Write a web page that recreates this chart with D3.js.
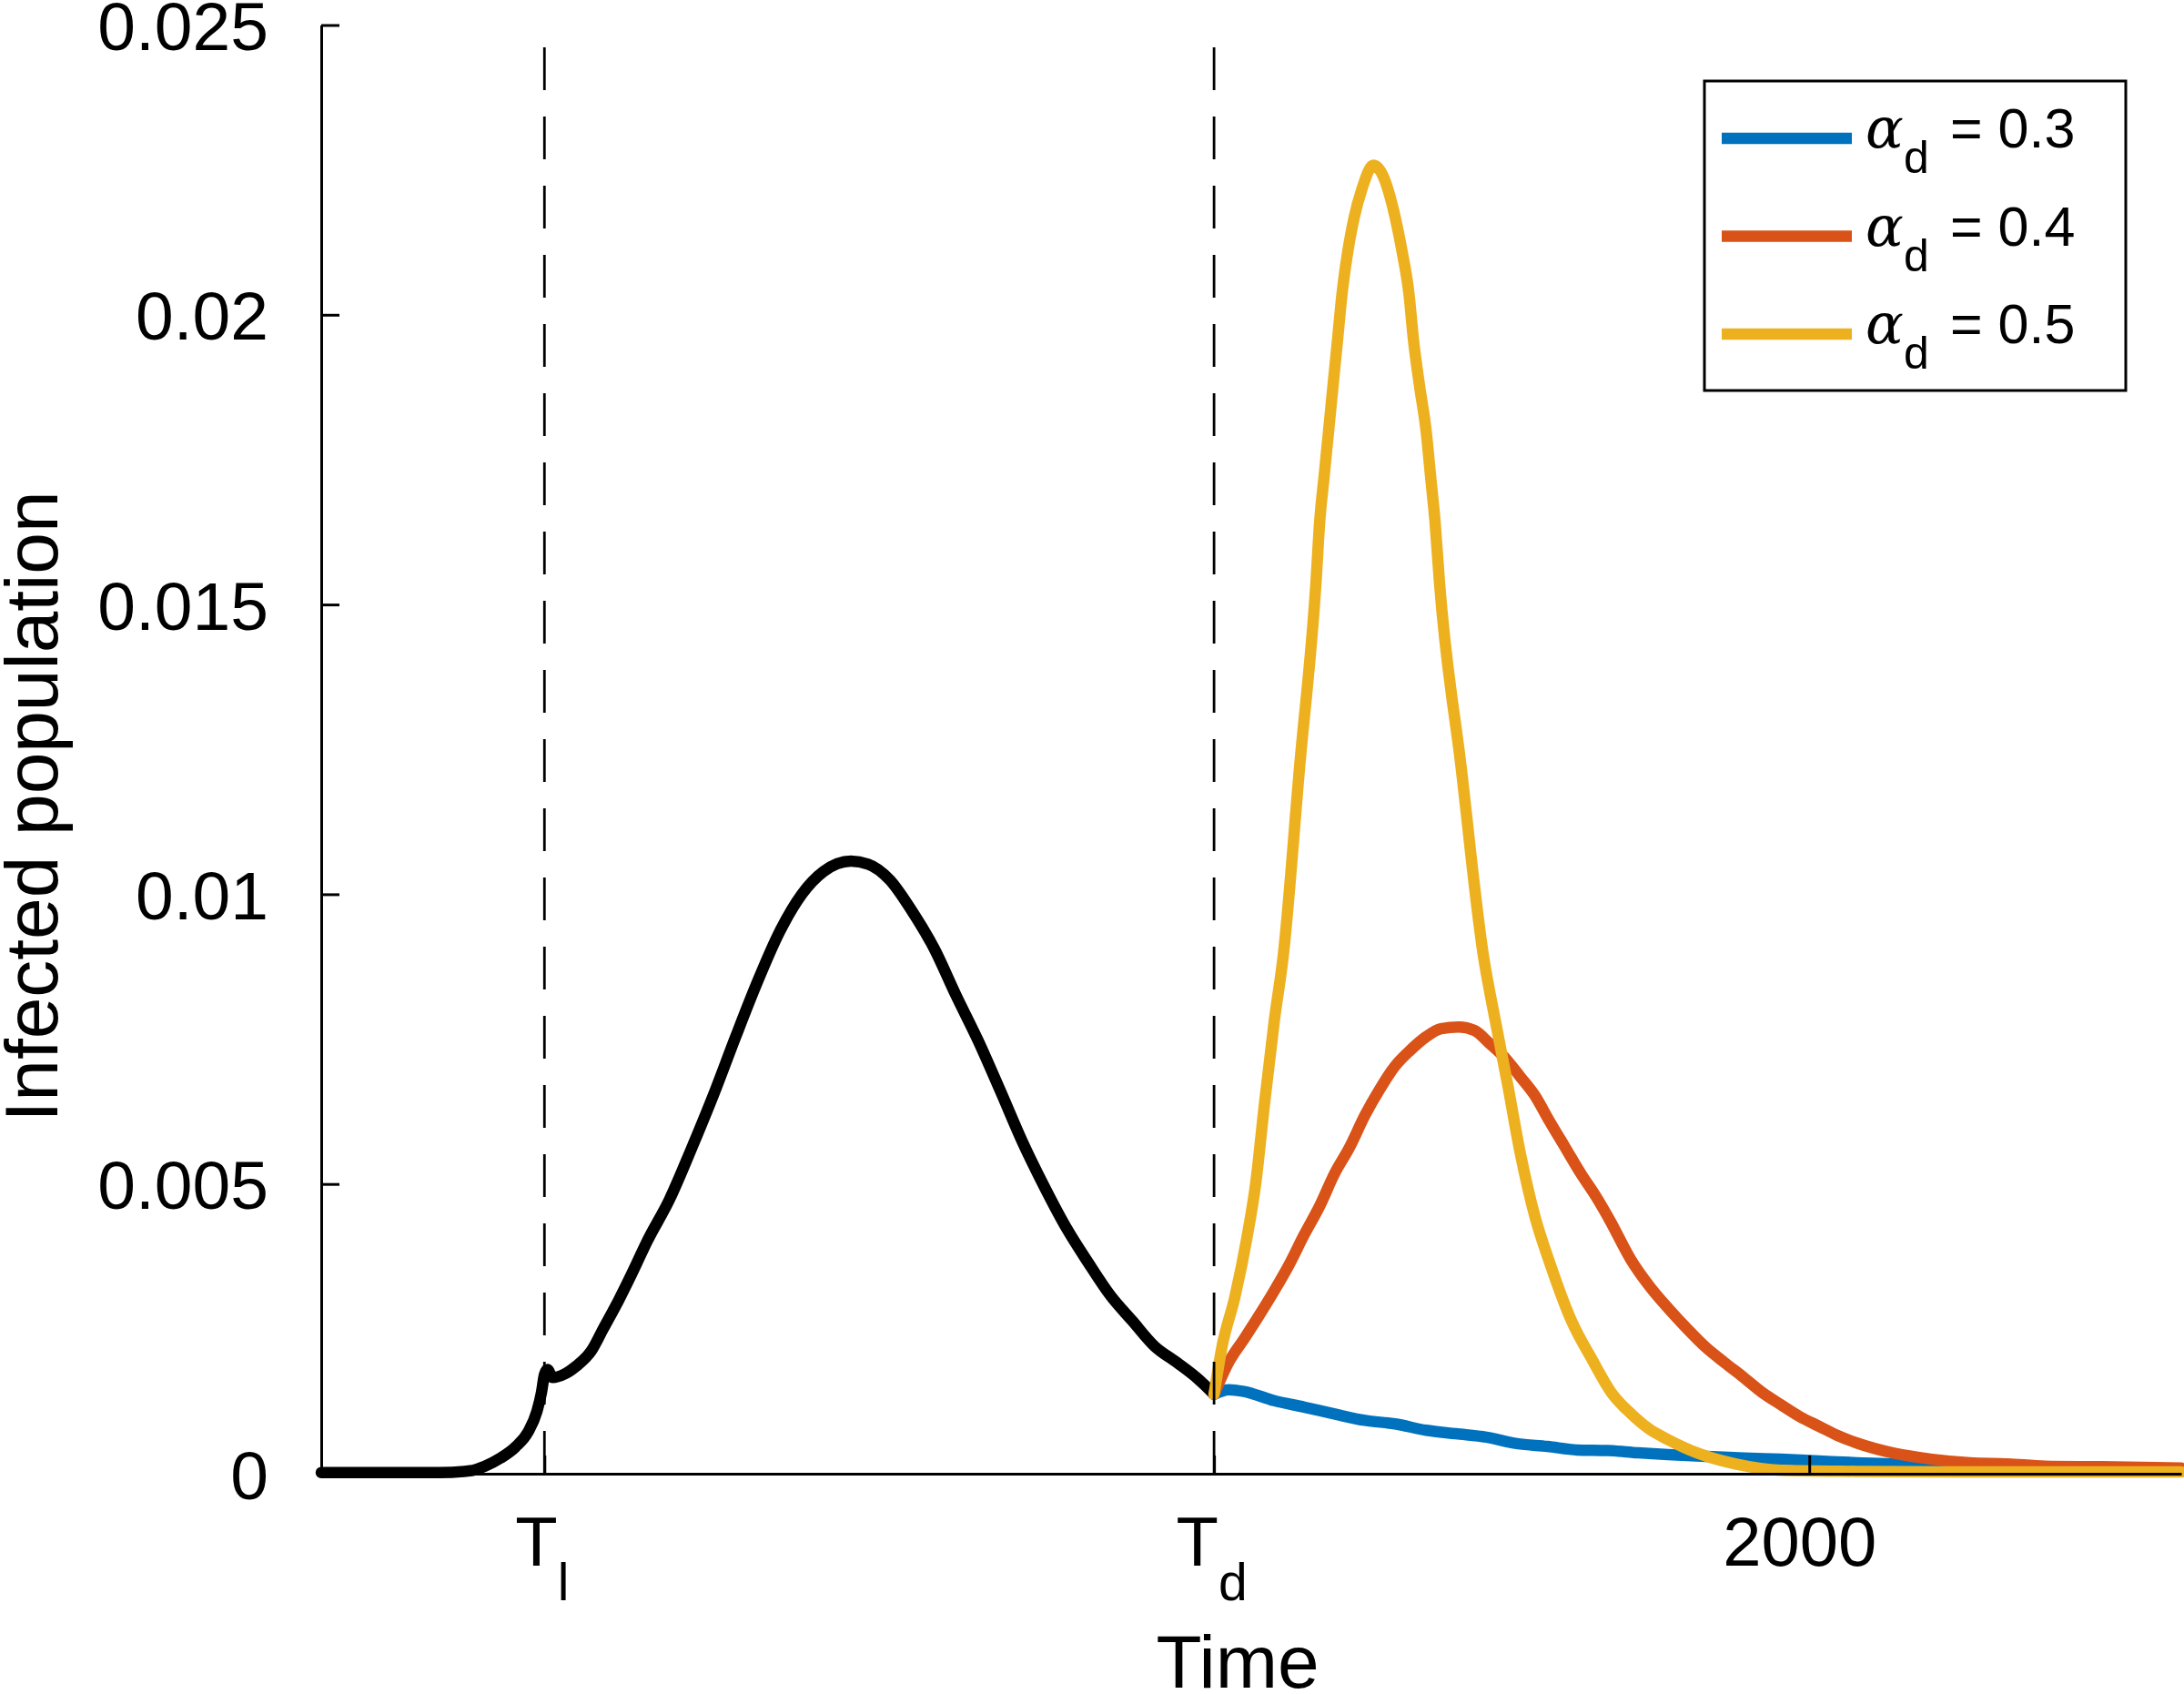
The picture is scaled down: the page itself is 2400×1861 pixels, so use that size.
<!DOCTYPE html>
<html>
<head>
<meta charset="utf-8">
<script src="https://cdn.jsdelivr.net/npm/d3@7"></script>
<style>
  html, body { margin: 0; padding: 0; background: #fff; }
  svg { display: block; }
</style>
</head>
<body>
<svg id="chart" width="2400" height="1861"></svg>
<script>
// ---------------- DATA ----------------
const blackT = [0, 100, 159, 200, 220, 241, 261, 278, 290, 296, 300, 304, 311, 327, 343, 363, 379, 400, 417, 438, 468, 497, 527, 557, 586, 616, 646, 675, 712, 735, 764, 794, 824, 853, 883, 913, 942, 972, 1002, 1031, 1061, 1090, 1120, 1150, 1179, 1200];
const blackV = [0.00002, 0.00002, 0.00002, 0.00005, 0.00013, 0.00027, 0.00046, 0.00072, 0.00108, 0.0014, 0.00171, 0.00180, 0.00166, 0.00172, 0.00186, 0.00212, 0.00250, 0.00300, 0.00344, 0.00401, 0.00473, 0.00559, 0.00653, 0.00754, 0.00848, 0.00935, 0.01000, 0.01039, 0.01057, 0.01052, 0.01025, 0.00971, 0.00906, 0.00826, 0.00747, 0.00660, 0.00574, 0.00495, 0.00423, 0.00364, 0.00307, 0.00264, 0.00220, 0.00192, 0.00163, 0.00137];

const blueT = [1200, 1220, 1240, 1281, 1321, 1362, 1403, 1443, 1485, 1525, 1566, 1607, 1648, 1688, 1729, 1770, 1810, 1861, 1912, 1962, 2013, 2064, 2115, 2165, 2216, 2317, 2400, 2500];
const blueV = [0.00137, 0.00145, 0.00142, 0.00126, 0.00115, 0.00103, 0.00092, 0.00086, 0.00075, 0.00069, 0.00063, 0.00052, 0.00047, 0.00041, 0.00040, 0.00036, 0.00033, 0.00030, 0.00027, 0.00025, 0.00022, 0.00019, 0.00017, 0.00012, 0.00006, 0.00004, 0.00004, 0.00004];

const redT = [1200, 1220, 1240, 1260, 1281, 1301, 1321, 1342, 1362, 1382, 1403, 1423, 1443, 1464, 1485, 1505, 1529, 1550, 1570, 1590, 1611, 1631, 1651, 1672, 1693, 1713, 1733, 1760, 1785, 1810, 1836, 1861, 1886, 1912, 1937, 1962, 1988, 2013, 2038, 2064, 2115, 2165, 2216, 2267, 2317, 2394, 2500];
const redV = [0.00137, 0.00193, 0.00232, 0.00272, 0.00316, 0.00361, 0.00412, 0.00462, 0.00518, 0.00563, 0.00619, 0.00664, 0.00703, 0.00731, 0.00754, 0.00768, 0.00771, 0.00765, 0.00743, 0.00719, 0.00686, 0.00653, 0.00608, 0.00563, 0.00518, 0.00479, 0.00435, 0.00370, 0.00324, 0.00286, 0.00250, 0.00218, 0.00192, 0.00166, 0.00140, 0.00119, 0.00098, 0.00082, 0.00066, 0.00053, 0.00035, 0.00025, 0.00019, 0.00017, 0.00013, 0.00012, 0.00010];

const yellowT = [1200, 1211, 1228, 1244, 1256, 1268, 1281, 1293, 1315, 1337, 1342, 1348, 1354, 1360, 1366, 1372, 1379, 1388, 1399, 1414, 1427, 1440, 1452, 1462, 1468, 1476, 1485, 1491, 1497, 1503, 1532, 1562, 1578, 1595, 1611, 1631, 1652, 1680, 1709, 1734, 1760, 1785, 1810, 1851, 1900, 1962, 2063, 2200, 2350, 2500];
const yellowV = [0.00137, 0.00221, 0.00305, 0.00406, 0.00501, 0.00641, 0.00782, 0.00894, 0.01220, 0.01538, 0.01643, 0.01722, 0.01800, 0.01879, 0.01957, 0.02036, 0.02103, 0.02166, 0.02218, 0.02258, 0.02240, 0.02187, 0.02114, 0.02036, 0.01957, 0.01879, 0.01800, 0.01722, 0.01643, 0.01538, 0.01220, 0.00894, 0.00782, 0.00669, 0.00557, 0.00445, 0.00361, 0.00265, 0.00195, 0.00140, 0.00104, 0.00077, 0.00059, 0.00035, 0.00017, 0.00006, 0.00004, 0.00003, 0.00003, 0.00003];

const seriesNames = ["0.3", "0.4", "0.5"];
const seriesColors = ["#0072BD", "#D95319", "#EDB120"];

const yTickValues = [0, 0.005, 0.01, 0.015, 0.02, 0.025];
const yTickLabels = ["0", "0.005", "0.01", "0.015", "0.02", "0.025"];
const xTickValues = [300, 1200, 2000];
const xTickMain = ["T", "T", "2000"];
const xTickSub = ["l", "d", ""];
const markerTimes = [300, 1200];

const xLabel = "Time";
const yLabel = "Infected population";

// ---------------- LAYOUT ----------------
const FONT = "'Liberation Sans', Arial, Helvetica, sans-serif";
const svg = d3.select("#chart");
const x = d3.scaleLinear().domain([0, 2500]).range([353, 2397]);
const y = d3.scaleLinear().domain([0, 0.025]).range([1619, 27.5]);

const zip = (ts, vs) => ts.map((t, i) => ({ t, v: vs[i] }));
const line = d3.line().x(d => x(d.t)).y(d => y(d.v)).curve(d3.curveMonotoneX);
const LW = 12.5;

// curves
const plot = svg.append("g");
plot.append("path").datum(zip(blackT, blackV))
  .attr("d", line).attr("fill", "none").attr("stroke", "#000")
  .attr("stroke-width", LW).attr("stroke-linejoin", "round").attr("stroke-linecap", "round");

const colored = [zip(blueT, blueV), zip(redT, redV), zip(yellowT, yellowV)];
colored.forEach((d, i) => {
  plot.append("path").datum(d)
    .attr("d", line).attr("fill", "none").attr("stroke", seriesColors[i])
    .attr("stroke-width", LW).attr("stroke-linejoin", "round").attr("stroke-linecap", "round");
});

// dashed vertical markers
svg.append("g").selectAll("line").data(markerTimes).join("line")
  .attr("x1", d => x(d)).attr("x2", d => x(d))
  .attr("y1", y(0)).attr("y2", y(0.025))
  .attr("stroke", "#000").attr("stroke-width", 2.8)
  .attr("stroke-dasharray", "47,29");

// y axis
const gy = svg.append("g").attr("transform", `translate(${x(0)},0)`)
  .call(d3.axisLeft(y).tickValues(yTickValues).tickFormat((d, i) => yTickLabels[i])
    .tickSize(-20).tickSizeOuter(0).tickPadding(58));
gy.select(".domain").attr("stroke-width", 3);
gy.selectAll(".tick line").attr("stroke-width", 3);
gy.selectAll(".tick text").attr("font-family", FONT).attr("font-size", 75).attr("fill", "#000").attr("dy", "0.36em");

// x axis
const gx = svg.append("g").attr("transform", `translate(0,${y(0)})`)
  .call(d3.axisBottom(x).tickValues(xTickValues).tickFormat("")
    .tickSize(-20).tickSizeOuter(0));
gx.select(".domain").attr("stroke-width", 3);
gx.selectAll(".tick line").attr("stroke-width", 3);
gx.selectAll(".tick").each(function (d, i) {
  const t = d3.select(this).select("text");
  t.text(null).attr("y", 101).attr("dy", 0).attr("x", xTickSub[i] ? -3 : -11)
    .attr("font-family", FONT).attr("font-size", 76).attr("fill", "#000");
  t.append("tspan").text(xTickMain[i]);
  if (xTickSub[i]) t.append("tspan").attr("font-size", 57).attr("dy", 38).text(xTickSub[i]);
});

// axis titles
svg.append("text").attr("x", 1360).attr("y", 1854)
  .attr("text-anchor", "middle").attr("font-family", FONT).attr("font-size", 82).text(xLabel);
svg.append("text").attr("transform", "translate(63,886) rotate(-90)")
  .attr("text-anchor", "middle").attr("font-family", FONT).attr("font-size", 82).text(yLabel);

// legend
const lg = svg.append("g");
lg.append("rect").attr("x", 1873).attr("y", 89).attr("width", 463).attr("height", 340)
  .attr("fill", "#fff").attr("stroke", "#000").attr("stroke-width", 3);
seriesNames.forEach((name, i) => {
  const cy = 152 + i * 107.5;
  const base = 162 + i * 107.5;
  lg.append("line").attr("x1", 1892).attr("x2", 2035).attr("y1", cy).attr("y2", cy)
    .attr("stroke", seriesColors[i]).attr("stroke-width", 12.5);
  lg.append("text").attr("x", 2050).attr("y", base)
    .attr("font-family", "'DejaVu Serif', 'Liberation Serif', serif").attr("font-style", "italic")
    .attr("font-size", 62).text("α");
  lg.append("text").attr("x", 2092).attr("y", base + 28)
    .attr("font-family", FONT).attr("font-size", 50).text("d");
  lg.append("text").attr("x", 2143).attr("y", base)
    .attr("font-family", FONT).attr("font-size", 61).attr("xml:space", "preserve").text("= " + name);
});
</script>
</body>
</html>
